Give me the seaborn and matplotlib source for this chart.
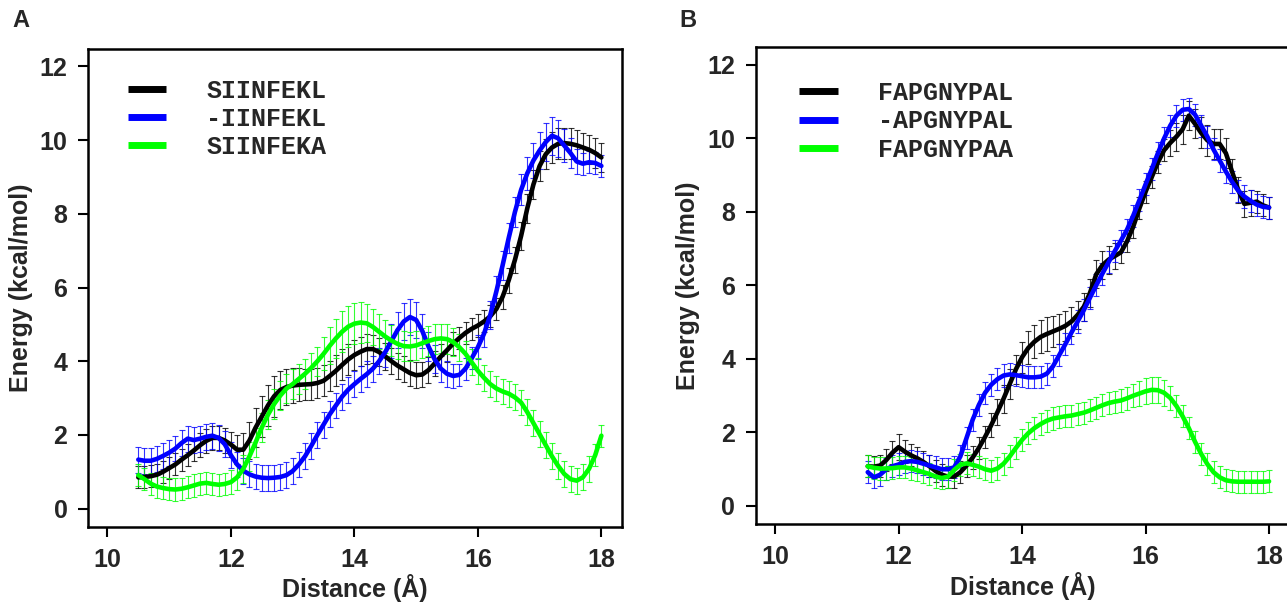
import numpy as np
import pandas as pd
import matplotlib
matplotlib.use("Agg")
import matplotlib.pyplot as plt
from matplotlib.lines import Line2D
from matplotlib.font_manager import FontProperties
import seaborn as sns

# ---- panel A: SIINFEKL family ----
dist_a = np.round(np.arange(10.5, 18.01, 0.1), 1)
labels_a = ["SIINFEKL", "-IINFEKL", "SIINFEKA"]

siinfekl = [0.85, 0.86, 0.88, 0.92, 1.00, 1.10, 1.20, 1.33, 1.45, 1.58,
            1.72, 1.84, 1.92, 1.92, 1.85, 1.74, 1.60, 1.60, 1.85, 2.20,
            2.50, 2.80, 3.05, 3.22, 3.30, 3.34, 3.36, 3.37, 3.38, 3.41,
            3.47, 3.60, 3.74, 3.90, 4.05, 4.17, 4.26, 4.33, 4.33, 4.25,
            4.13, 4.00, 3.88, 3.78, 3.68, 3.62, 3.64, 3.76, 3.94, 4.13,
            4.30, 4.48, 4.63, 4.77, 4.88, 4.97, 5.08, 5.22, 5.42, 5.75,
            6.20, 6.75, 7.40, 8.15, 8.80, 9.30, 9.62, 9.80, 9.90, 9.92,
            9.90, 9.86, 9.80, 9.74, 9.65, 9.53]
siinfekl_err = [0.30, 0.30, 0.30, 0.30, 0.30, 0.30, 0.30, 0.30, 0.30, 0.30,
                0.32, 0.33, 0.33, 0.33, 0.33, 0.35, 0.40, 0.45, 0.50, 0.52,
                0.55, 0.55, 0.55, 0.52, 0.50, 0.48, 0.45, 0.43, 0.42, 0.42,
                0.42, 0.42, 0.42, 0.42, 0.42, 0.42, 0.40, 0.40, 0.38, 0.38,
                0.36, 0.35, 0.35, 0.35, 0.35, 0.35, 0.35, 0.35, 0.35, 0.35,
                0.32, 0.30, 0.30, 0.30, 0.30, 0.30, 0.30, 0.30, 0.30, 0.32,
                0.34, 0.36, 0.38, 0.40, 0.40, 0.40, 0.40, 0.42, 0.42, 0.42,
                0.42, 0.42, 0.40, 0.40, 0.40, 0.40]

iinfekl = [1.33, 1.30, 1.30, 1.35, 1.43, 1.52, 1.63, 1.78, 1.90, 1.86,
           1.90, 1.95, 1.98, 1.92, 1.75, 1.45, 1.20, 1.03, 0.93, 0.87,
           0.84, 0.83, 0.84, 0.86, 0.91, 1.02, 1.20, 1.42, 1.70, 2.00,
           2.28, 2.56, 2.80, 3.04, 3.23, 3.38, 3.52, 3.65, 3.80, 4.00,
           4.25, 4.55, 4.85, 5.08, 5.20, 5.12, 4.82, 4.40, 4.05, 3.80,
           3.66, 3.60, 3.63, 3.80, 4.08, 4.38, 4.75, 5.25, 5.90, 6.60,
           7.35, 8.05, 8.65, 9.10, 9.45, 9.72, 9.95, 10.12, 10.05, 9.85,
           9.65, 9.42, 9.36, 9.40, 9.38, 9.30]
iinfekl_err = [0.35, 0.35, 0.35, 0.35, 0.35, 0.35, 0.35, 0.35, 0.35, 0.35,
               0.35, 0.35, 0.35, 0.35, 0.35, 0.35, 0.35, 0.35, 0.35, 0.35,
               0.35, 0.35, 0.35, 0.35, 0.35, 0.35, 0.35, 0.35, 0.35, 0.35,
               0.35, 0.35, 0.35, 0.35, 0.35, 0.35, 0.35, 0.35, 0.35, 0.35,
               0.40, 0.45, 0.48, 0.50, 0.50, 0.48, 0.45, 0.40, 0.38, 0.35,
               0.35, 0.32, 0.30, 0.30, 0.30, 0.32, 0.35, 0.38, 0.40, 0.40,
               0.40, 0.40, 0.42, 0.45, 0.48, 0.50, 0.52, 0.52, 0.50, 0.45,
               0.40, 0.35, 0.30, 0.30, 0.30, 0.30]

siinfeka = [0.91, 0.80, 0.68, 0.60, 0.56, 0.53, 0.52, 0.54, 0.58, 0.63,
            0.68, 0.70, 0.67, 0.65, 0.67, 0.72, 0.85, 1.08, 1.42, 1.80,
            2.20, 2.55, 2.84, 3.07, 3.26, 3.38, 3.52, 3.66, 3.82, 4.00,
            4.20, 4.42, 4.62, 4.80, 4.94, 5.02, 5.05, 5.03, 4.93, 4.80,
            4.67, 4.56, 4.47, 4.41, 4.40, 4.43, 4.49, 4.55, 4.60, 4.62,
            4.60, 4.52, 4.38, 4.20, 3.97, 3.74, 3.55, 3.38, 3.26, 3.18,
            3.12, 3.02, 2.88, 2.62, 2.32, 2.02, 1.72, 1.42, 1.16, 0.94,
            0.80, 0.76, 0.85, 1.08, 1.45, 1.98]
siinfeka_err = [0.30, 0.30, 0.30, 0.30, 0.30, 0.30, 0.30, 0.30, 0.30, 0.30,
                0.30, 0.30, 0.30, 0.30, 0.30, 0.32, 0.35, 0.38, 0.40, 0.40,
                0.40, 0.40, 0.40, 0.40, 0.40, 0.40, 0.40, 0.40, 0.40, 0.40,
                0.45, 0.50, 0.52, 0.55, 0.55, 0.55, 0.55, 0.52, 0.50, 0.48,
                0.45, 0.42, 0.40, 0.40, 0.40, 0.40, 0.40, 0.40, 0.40, 0.40,
                0.40, 0.38, 0.36, 0.35, 0.35, 0.35, 0.35, 0.35, 0.35, 0.35,
                0.35, 0.35, 0.35, 0.35, 0.35, 0.35, 0.35, 0.35, 0.35, 0.35,
                0.35, 0.35, 0.35, 0.35, 0.30, 0.30]

# ---- panel B: FAPGNYPAL family ----
dist_b = np.round(np.arange(11.5, 18.01, 0.1), 1)
labels_b = ["FAPGNYPAL", "-APGNYPAL", "FAPGNYPAA"]

fapgnypal = [1.08, 1.07, 1.10, 1.25, 1.45, 1.60, 1.48, 1.38, 1.30, 1.20,
             1.08, 0.95, 0.85, 0.80, 0.80, 0.92, 1.10, 1.32, 1.58, 1.88,
             2.20, 2.55, 2.92, 3.32, 3.72, 4.05, 4.30, 4.47, 4.60, 4.68,
             4.75, 4.82, 4.90, 5.02, 5.20, 5.42, 5.80, 6.30, 6.55, 6.70,
             6.80, 6.90, 7.20, 7.60, 8.10, 8.55, 8.95, 9.35, 9.68, 9.88,
             10.05, 10.25, 10.62, 10.40, 10.15, 9.95, 9.85, 9.85, 9.60, 9.10,
             8.60, 8.22, 8.25, 8.28, 8.18, 8.12]
fapgnypal_err = [0.30, 0.30, 0.30, 0.30, 0.32, 0.35, 0.32, 0.30, 0.30, 0.30,
                 0.30, 0.30, 0.30, 0.30, 0.30, 0.30, 0.30, 0.30, 0.30, 0.30,
                 0.32, 0.35, 0.38, 0.40, 0.40, 0.42, 0.45, 0.45, 0.45, 0.45,
                 0.42, 0.40, 0.40, 0.40, 0.38, 0.38, 0.38, 0.38, 0.38, 0.38,
                 0.35, 0.30, 0.30, 0.30, 0.30, 0.30, 0.30, 0.30, 0.30, 0.35,
                 0.38, 0.40, 0.40, 0.40, 0.42, 0.42, 0.42, 0.42, 0.40, 0.35,
                 0.35, 0.35, 0.35, 0.30, 0.30, 0.30]

apgnypal = [0.92, 0.78, 0.85, 1.00, 1.08, 1.13, 1.20, 1.22, 1.20, 1.15,
            1.10, 1.05, 1.00, 1.00, 1.05, 1.35, 1.85, 2.35, 2.75, 3.08,
            3.30, 3.45, 3.55, 3.58, 3.56, 3.53, 3.50, 3.50, 3.52, 3.60,
            3.80, 4.10, 4.40, 4.72, 5.02, 5.33, 5.67, 6.00, 6.32, 6.63,
            6.93, 7.22, 7.52, 7.90, 8.32, 8.75, 9.17, 9.60, 10.00, 10.35,
            10.62, 10.78, 10.80, 10.65, 10.35, 10.05, 9.70, 9.40, 9.10, 8.82,
            8.58, 8.42, 8.30, 8.20, 8.14, 8.12]
apgnypal_err = [0.30, 0.30, 0.30, 0.30, 0.30, 0.30, 0.30, 0.30, 0.30, 0.30,
                0.30, 0.30, 0.30, 0.30, 0.30, 0.30, 0.30, 0.30, 0.30, 0.30,
                0.30, 0.30, 0.30, 0.30, 0.30, 0.30, 0.30, 0.30, 0.30, 0.30,
                0.30, 0.30, 0.30, 0.30, 0.30, 0.30, 0.30, 0.30, 0.30, 0.30,
                0.30, 0.30, 0.30, 0.30, 0.30, 0.30, 0.30, 0.30, 0.30, 0.30,
                0.30, 0.30, 0.30, 0.30, 0.30, 0.30, 0.30, 0.30, 0.30, 0.30,
                0.30, 0.30, 0.30, 0.30, 0.30, 0.30]

fapgnypaa = [1.08, 1.04, 1.02, 1.02, 1.03, 1.05, 1.05, 1.02, 0.97, 0.92,
             0.87, 0.80, 0.76, 0.80, 0.98, 1.12, 1.16, 1.12, 1.07, 1.00,
             0.96, 1.02, 1.15, 1.35, 1.58, 1.80, 1.98, 2.12, 2.23, 2.32,
             2.38, 2.41, 2.44, 2.46, 2.50, 2.54, 2.60, 2.67, 2.74, 2.80,
             2.84, 2.87, 2.93, 3.00, 3.06, 3.12, 3.16, 3.15, 3.08, 2.94,
             2.72, 2.44, 2.12, 1.75, 1.42, 1.14, 0.92, 0.78, 0.70, 0.67,
             0.66, 0.66, 0.66, 0.66, 0.66, 0.67]
fapgnypaa_err = [0.30, 0.30, 0.30, 0.30, 0.30, 0.30, 0.30, 0.30, 0.30, 0.30,
                 0.30, 0.30, 0.30, 0.30, 0.30, 0.30, 0.30, 0.30, 0.30, 0.30,
                 0.30, 0.30, 0.30, 0.30, 0.30, 0.30, 0.30, 0.30, 0.30, 0.30,
                 0.30, 0.30, 0.30, 0.30, 0.30, 0.30, 0.30, 0.30, 0.30, 0.30,
                 0.30, 0.30, 0.32, 0.32, 0.34, 0.35, 0.35, 0.35, 0.35, 0.32,
                 0.30, 0.30, 0.30, 0.30, 0.30, 0.30, 0.30, 0.30, 0.30, 0.30,
                 0.30, 0.30, 0.30, 0.30, 0.30, 0.30]

colors = ["#000000", "#0000ff", "#00ff00"]

sns.set_style("ticks")
plt.rcParams["font.family"] = ["Liberation Sans", "DejaVu Sans"]
plt.rcParams["font.weight"] = "bold"
plt.rcParams["axes.labelweight"] = "bold"

fig = plt.figure(figsize=(12.87, 6.03), dpi=100)
ax_a = fig.add_axes([0.0686, 0.1265, 0.4145, 0.7927])
ax_b = fig.add_axes([0.5874, 0.1310, 0.4145, 0.7906])

legend_font = FontProperties(family="Liberation Mono", weight="bold", size=18)


def draw_panel(ax, dist, labels, series, errors, leg_x, leg_y):
    frames = []
    for lab, vals in zip(labels, series):
        frames.append(pd.DataFrame({"distance": dist, "energy": vals, "peptide": lab}))
    df = pd.concat(frames, ignore_index=True)

    # error bars underneath all curves
    for vals, err, c in zip(series, errors, colors):
        ax.errorbar(dist, vals, yerr=err, fmt="none", ecolor=c, elinewidth=0.8,
                    capsize=2.3, capthick=0.8, alpha=0.8, zorder=1)

    sns.lineplot(data=df, x="distance", y="energy", hue="peptide",
                 hue_order=labels, palette=colors, linewidth=3.3,
                 estimator=None, sort=False, legend=False, ax=ax, zorder=3)

    ax.set_xlim(9.69, 18.33)
    ax.set_ylim(-0.49, 12.48)
    ax.set_xticks([10, 12, 14, 16, 18])
    ax.set_yticks([0, 2, 4, 6, 8, 10, 12])
    ax.tick_params(axis="both", labelsize=18, length=7, width=1.5, pad=8,
                   direction="out", color="black")
    for lab in ax.get_xticklabels() + ax.get_yticklabels():
        lab.set_fontweight("bold")
    for sp in ax.spines.values():
        sp.set_visible(True)
        sp.set_linewidth(1.8)
        sp.set_color("black")
    ax.set_xlabel("Distance (Å)", fontsize=18, fontweight="bold", labelpad=2)
    ax.set_ylabel("Energy (kcal/mol)", fontsize=18, fontweight="bold", labelpad=5)

    handles = [Line2D([], [], color=c, lw=5, solid_capstyle="butt") for c in colors]
    ax.legend(handles, labels, loc="upper left", bbox_to_anchor=(leg_x, leg_y),
              frameon=False, borderpad=0, borderaxespad=0, handlelength=1.55,
              handletextpad=1.6, labelspacing=0.17, prop=legend_font)


draw_panel(ax_a, dist_a, labels_a, [siinfekl, iinfekl, siinfeka],
           [siinfekl_err, iinfekl_err, siinfeka_err], 0.0737, 0.9377)
draw_panel(ax_b, dist_b, labels_b, [fapgnypal, apgnypal, fapgnypaa],
           [fapgnypal_err, apgnypal_err, fapgnypaa_err], 0.0806, 0.929)

fig.text(12 / 1287, 1 - 9 / 603, "A", fontsize=17, fontweight="bold", va="top", ha="left")
fig.text(679 / 1287, 1 - 9 / 603, "B", fontsize=17, fontweight="bold", va="top", ha="left")

fig.savefig("out.png", dpi=100)
